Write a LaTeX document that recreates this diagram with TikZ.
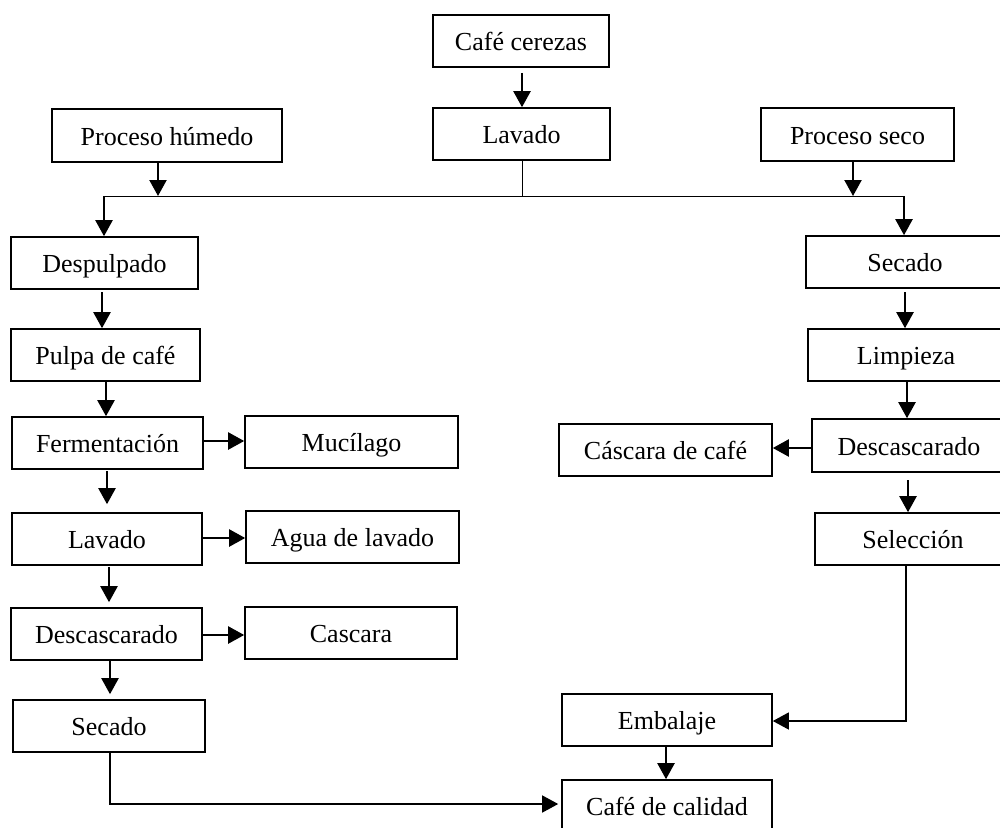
\documentclass[tikz,border=0pt]{standalone}
\usepackage{fontspec}
\setmainfont{Liberation Serif}
\usetikzlibrary{arrows.meta,calc}

\tikzset{
  box/.style={draw=black, line width=1.6pt, fill=white, inner sep=0pt,
              minimum height=52pt, text height=21pt, text depth=2pt,
              font=\fontsize{26}{30}\selectfont},
  tip/.style={-{Triangle[length=16pt,width=17pt]}},
  flow/.style={line width=2.2pt, tip},
  thin/.style={line width=1pt},
  feed/.style={line width=1.4pt, tip},
}

\begin{document}
\begin{tikzpicture}[x=1pt,y=-1pt]
\useasboundingbox (0,0) rectangle (1000,827);
\clip (0,0) rectangle (1000,827);

% common trunk
\node[box, minimum width=176pt] (cc)   at (521,41)    {Café cerezas};
\node[box, minimum width=177pt] (lav0) at (521.5,134) {Lavado};
\node[box, minimum width=230pt, minimum height=53pt] (ph) at (167,135.5) {Proceso húmedo};
\node[box, minimum width=193pt, minimum height=53pt] (ps) at (857.5,134.5) {Proceso seco};

% wet process
\node[box, minimum width=187pt] (desp)    at (104.5,263) {Despulpado};
\node[box, minimum width=189pt] (pulpa)   at (105.5,355) {Pulpa de café};
\node[box, minimum width=191pt] (ferm)    at (107.5,443) {Fermentación};
\node[box, minimum width=213pt] (muc)     at (351.5,442) {Mucílago};
\node[box, minimum width=190pt] (lavL)    at (107,539)   {Lavado};
\node[box, minimum width=213pt] (agua)    at (352.5,537) {Agua de lavado};
\node[box, minimum width=191pt] (descL)   at (106.5,634) {Descascarado};
\node[box, minimum width=212pt] (cascara) at (351,633)   {Cascara};
\node[box, minimum width=192pt] (secL)    at (109,726)   {Secado};

% dry process
\node[box, minimum width=198pt] (secR)    at (905,262)   {Secado};
\node[box, minimum width=196pt] (limp)    at (906,355)   {Limpieza};
\node[box, minimum width=194pt, minimum height=53pt] (descR) at (909,445.5) {Descascarado};
\node[box, minimum width=213pt] (cascafe) at (665.5,450) {Cáscara de café};
\node[box, minimum width=196pt] (selec)   at (913,539)   {Selección};

% final steps
\node[box, minimum width=210pt] (emb)  at (667,720) {Embalaje};
\node[box, minimum width=210pt] (cafe) at (667,806) {Café de calidad};

% distribution bus
\coordinate (busL) at (104,196);
\coordinate (busR) at (904,196);
\coordinate (busM) at (522,196);
\coordinate (phB)  at (158,196);
\coordinate (psB)  at (853,196);
\draw[thin] (busL) -- (busR);
\draw[thin] (lav0.south -| busM) -- (busM);
\draw[flow] ($(cc.south)+(1,5)$) -- (lav0.north -| busM);
\draw[flow] (ph.south -| phB) -- (phB);
\draw[flow] (ps.south -| psB) -- (psB);
\draw[flow] (busL) -- (desp.north -| busL);
\draw[flow] (busR) -- (secR.north -| busR);

% wet chain
\coordinate (c1) at (102,292);
\coordinate (c2) at (106,381);
\coordinate (c3) at (107,471);
\coordinate (c4) at (109,567);
\coordinate (c5) at (110,660);
\coordinate (c6) at (110,752);
\draw[flow] (c1) -- (pulpa.north -| c1);
\draw[flow] (c2) -- (ferm.north -| c2);
\draw[flow] (ferm.east |- 0,441) -- (muc.west |- 0,441);
\draw[flow] (c3) -- ($(lavL.north -| c3)+(0,-8)$);
\draw[flow] (lavL.east |- 0,538) -- (agua.west |- 0,538);
\draw[flow] (c4) -- ($(descL.north -| c4)+(0,-5)$);
\draw[flow] (descL.east |- 0,635) -- (cascara.west |- 0,635);
\draw[flow] (c5) -- ($(secL.north -| c5)+(0,-5)$);
\draw[feed] (c6) |- ($(cafe.west)+(-3,-2)$);

% dry chain
\coordinate (d1) at (905,292);
\coordinate (d2) at (907,381);
\coordinate (d3) at (908,480);
\coordinate (d4) at (906,565);
\draw[flow] (d1) -- (limp.north -| d1);
\draw[flow] (d2) -- (descR.north -| d2);
\draw[flow] (descR.west |- 0,448) -- (cascafe.east |- 0,448);
\draw[flow] (d3) -- (selec.north -| d3);
\draw[feed] (d4) |- (emb.east |- 0,721);

\coordinate (e1) at (666,746);
\draw[flow] (e1) -- (cafe.north -| e1);
\end{tikzpicture}
\end{document}
